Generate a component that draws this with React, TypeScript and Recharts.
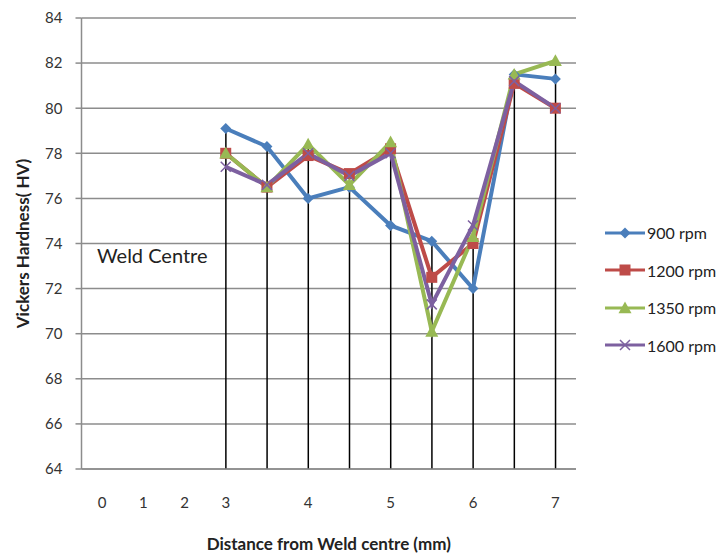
import React from "react";
import {
  ComposedChart,
  Line,
  Bar,
  XAxis,
  YAxis,
  CartesianGrid,
} from "recharts";

const categories = ["0", "1", "2", "3", "3.5", "4", "4.5", "5", "5.5", "6", "6.5", "7"];
const tickLabels = ["0", "1", "2", "3", "", "4", "", "5", "", "6", "", "7"];
const yTicks = [64, 66, 68, 70, 72, 74, 76, 78, 80, 82, 84];

const rpm900 = [null, null, null, 79.1, 78.3, 76, 76.5, 74.8, 74.1, 72, 81.5, 81.3];
const rpm1200 = [null, null, null, 78, 76.5, 77.9, 77.1, 78.2, 72.5, 74, 81.1, 80];
const rpm1350 = [null, null, null, 78, 76.5, 78.4, 76.6, 78.5, 70.1, 74.3, 81.5, 82.1];
const rpm1600 = [null, null, null, 77.4, 76.6, 78, 77, 78, 71.3, 74.8, 81.2, 80];

const FONT = "Lato, 'Open Sans', sans-serif";
const BLUE = "#4a7ebb";
const RED = "#be4b48";
const GREEN = "#98b954";
const PURPLE = "#7d60a0";

const rows = categories.map((c, i) => {
  const vals = [rpm900[i], rpm1200[i], rpm1350[i], rpm1600[i]].filter(
    (v): v is number => v !== null
  );
  return {
    x: c,
    r900: rpm900[i],
    r1200: rpm1200[i],
    r1350: rpm1350[i],
    r1600: rpm1600[i],
    drop: vals.length ? Math.max(...vals) : null,
  };
});

// marker shapes
const Diamond = (p: any) => {
  const { cx, cy, fill } = p;
  if (cx == null || cy == null || p.value == null) return <g />;
  const r = 5.5;
  return <path d={`M${cx},${cy - r}L${cx + r},${cy}L${cx},${cy + r}L${cx - r},${cy}Z`} fill={fill} />;
};
const Square = (p: any) => {
  const { cx, cy, fill } = p;
  if (cx == null || cy == null || p.value == null) return <g />;
  const r = 5.5;
  return <rect x={cx - r} y={cy - r} width={r * 2} height={r * 2} fill={fill} />;
};
const Triangle = (p: any) => {
  const { cx, cy, fill } = p;
  if (cx == null || cy == null || p.value == null) return <g />;
  const r = 6.5;
  return <path d={`M${cx},${cy - r}L${cx + r},${cy + r * 0.8}L${cx - r},${cy + r * 0.8}Z`} fill={fill} />;
};
const Cross = (p: any) => {
  const { cx, cy, stroke } = p;
  if (cx == null || cy == null || p.value == null) return <g />;
  const r = 5;
  return (
    <path
      d={`M${cx - r},${cy - r}L${cx + r},${cy + r}M${cx - r},${cy + r}L${cx + r},${cy - r}`}
      stroke={stroke}
      strokeWidth={1.5}
      fill="none"
    />
  );
};

const legendItems = [
  { name: "900 rpm", color: BLUE, shape: "diamond" },
  { name: "1200 rpm", color: RED, shape: "square" },
  { name: "1350 rpm", color: GREEN, shape: "triangle" },
  { name: "1600 rpm", color: PURPLE, shape: "cross" },
];

function LegendIcon({ color, shape }: { color: string; shape: string }) {
  const cx = 20;
  const cy = 8;
  let m: React.ReactNode = null;
  if (shape === "diamond") m = <Diamond cx={cx} cy={cy} fill={color} value={1} />;
  if (shape === "square") m = <Square cx={cx} cy={cy} fill={color} value={1} />;
  if (shape === "triangle") m = <Triangle cx={cx} cy={cy} fill={color} value={1} />;
  if (shape === "cross") m = <Cross cx={cx} cy={cy} stroke={color} value={1} />;
  return (
    <svg width={40} height={16} style={{ display: "block", flexShrink: 0 }}>
      <line x1={0} x2={40} y1={cy} y2={cy} stroke={color} strokeWidth={3} />
      {m}
    </svg>
  );
}

export default function App() {
  return (
    <div style={{ position: "absolute", left: 0, top: 0, width: 722, height: 555, background: "#fff", fontFamily: FONT, overflow: "hidden" }}>
      <ComposedChart
        width={722}
        height={555}
        data={rows}
        margin={{ top: 18, right: 146, bottom: 0, left: 0 }}
      >
        <CartesianGrid vertical={false} stroke="#8c8c8c" strokeWidth={1.5} />
        <XAxis
          dataKey="x"
          tickFormatter={(_v: string, i: number) => tickLabels[i]}
          interval={0}
          height={86}
          tickLine={false}
          axisLine={{ stroke: "#8c8c8c", strokeWidth: 1.5 }}
          tickMargin={22}
          tick={{ fill: "#333", fontSize: 15, fontFamily: FONT }}
          label={{
            value: "Distance from Weld centre (mm)",
            position: "insideBottom",
            offset: 5,
            fill: "#222",
            fontSize: 17,
            fontWeight: "bold",
            fontFamily: FONT,
          }}
        />
        <YAxis
          domain={[64, 84]}
          ticks={yTicks}
          interval={0}
          width={81.5}
          tickSize={6}
          tickMargin={13}
          axisLine={{ stroke: "#8c8c8c", strokeWidth: 1.5 }}
          tickLine={{ stroke: "#8c8c8c", strokeWidth: 1.5 }}
          tick={{ fill: "#333", fontSize: 15, fontFamily: FONT }}
          label={{
            value: "Vickers Hardness(\u00a0HV)",
            angle: -90,
            position: "insideLeft",
            offset: 23,
            fill: "#222",
            fontSize: 17,
            fontWeight: "bold",
            fontFamily: FONT,
            style: { textAnchor: "middle" },
          }}
        />
        <Line
          dataKey="r900"
          stroke={BLUE}
          strokeWidth={4}
          dot={<Diamond fill={BLUE} />}
          activeDot={false}
          isAnimationActive={false}
        />
        <Line
          dataKey="r1200"
          stroke={RED}
          strokeWidth={4}
          dot={<Square fill={RED} />}
          activeDot={false}
          isAnimationActive={false}
        />
        <Line
          dataKey="r1350"
          stroke={GREEN}
          strokeWidth={4}
          dot={<Triangle fill={GREEN} />}
          activeDot={false}
          isAnimationActive={false}
        />
        <Line
          dataKey="r1600"
          stroke={PURPLE}
          strokeWidth={4}
          dot={<Cross stroke={PURPLE} />}
          activeDot={false}
          isAnimationActive={false}
        />
        <Bar dataKey="drop" barSize={1.5} fill="#000" isAnimationActive={false} />
      </ComposedChart>

      <div
        style={{
          position: "absolute",
          left: 97,
          top: 243,
          fontSize: 20,
          color: "#222",
          fontFamily: FONT,
          lineHeight: "24px",
          whiteSpace: "nowrap",
        }}
      >
        Weld Centre
      </div>

      <div style={{ position: "absolute", left: 605, top: 214, width: 117 }}>
        {legendItems.map((it) => (
          <div
            key={it.name}
            style={{
              display: "flex",
              alignItems: "center",
              height: 37.5,
              fontSize: 16,
              color: "#222",
              whiteSpace: "nowrap",
            }}
          >
            <LegendIcon color={it.color} shape={it.shape} />
            <span style={{ marginLeft: 2 }}>{it.name}</span>
          </div>
        ))}
      </div>
    </div>
  );
}
